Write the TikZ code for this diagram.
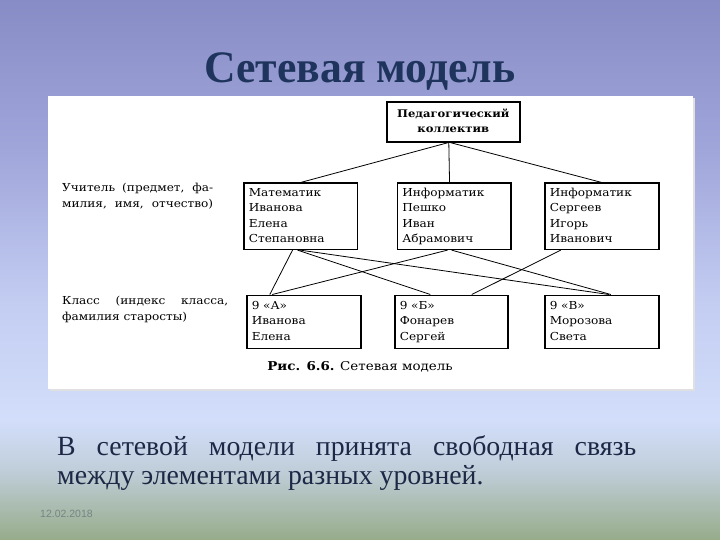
\documentclass[tikz,border=0pt]{standalone}
\usepackage{fontspec}
\setmainfont{Liberation Serif}
\newfontfamily\bookfont[FakeStretch=1.1]{DejaVu Serif}
\newfontfamily\datefont{Liberation Sans}
\newfontfamily\titlefont[FakeStretch=0.97]{Liberation Serif}
\definecolor{bgA}{RGB}{136,140,198}
\definecolor{bgC}{RGB}{160,166,218}
\definecolor{bgD}{RGB}{195,205,242}
\definecolor{bgE}{RGB}{210,222,250}
\definecolor{bgF}{RGB}{192,206,218}
\definecolor{bgG}{RGB}{150,172,138}
\definecolor{navy}{RGB}{31,52,92}
\definecolor{textnavy}{RGB}{30,40,70}
\definecolor{dategray}{RGB}{120,132,132}
\pgfdeclareverticalshading{slidebg}{100bp}{color(0bp)=(bgG); color(25bp)=(bgG); color(31.5bp)=(bgF); color(36bp)=(bgE); color(47bp)=(bgD); color(61bp)=(bgC); color(75bp)=(bgA); color(100bp)=(bgA)}
\newcommand{\strline}[1]{\strut#1}
\tikzset{
  bk/.style={font=\bookfont\fontsize{11}{15.4}\selectfont},
  tbox/.style={bk, draw=black, line width=1.6pt, anchor=north west, inner xsep=5pt, inner ysep=0pt, align=left},
  link/.style={draw=black, line width=0.8pt},
}
\begin{document}
\begin{tikzpicture}[x=1pt,y=-1pt]
\useasboundingbox (0,0) rectangle (720,540);
\shade[shading=slidebg] (0,0) rectangle (720,540);
% panel
\fill[black!12] (50,98) rectangle (695,391);
\fill[white] (48,96) rectangle (693,389);
% title
\node[font=\titlefont\bfseries\fontsize{45}{50}\selectfont, text=navy, anchor=base] (title) at (360,83) {Сетевая модель};
% top box
\node[tbox, font=\bookfont\bfseries\fontsize{10.5}{15}\selectfont, align=center, minimum width=133pt, minimum height=40pt] (top) at (386,101) {\strline{Педагогический}\\\strline{коллектив}};
% teachers
\node[tbox, text width=103.5pt, minimum height=66pt] (t1) at (243,182.5) {\strline{Математик}\\\strline{Иванова}\\\strline{Елена}\\\strline{Степановна}};
\node[tbox, text width=103.5pt, minimum height=66pt] (t2) at (396.5,182.5) {\strline{Информатик}\\\strline{Пешко}\\\strline{Иван}\\\strline{Абрамович}};
\node[tbox, text width=104pt, minimum height=66pt] (t3) at (544,182.5) {\strline{Информатик}\\\strline{Сергеев}\\\strline{Игорь}\\\strline{Иванович}};
% classes
\node[tbox, text width=104pt, minimum height=53pt] (c1) at (246,294.5) {\strline{9 «А»}\\\strline{Иванова}\\\strline{Елена}};
\node[tbox, text width=103pt, minimum height=53pt] (c2) at (394,294.5) {\strline{9 «Б»}\\\strline{Фонарев}\\\strline{Сергей}};
\node[tbox, text width=104pt, minimum height=53pt] (c3) at (544,294.5) {\strline{9 «В»}\\\strline{Морозова}\\\strline{Света}};
% left labels
\node[bk, anchor=north west, align=left, inner sep=0pt] (lab1) at (62,181) {\strline{\makebox[151pt][s]{Учитель (предмет, фа-}}\\\strline{\makebox[151pt][s]{милия, имя, отчество)}}};
\node[bk, anchor=north west, align=left, inner sep=0pt] (lab2) at (62,294) {\strline{\makebox[166pt][s]{Класс (индекс класса,}}\\\strline{фамилия старосты)}};
% caption
\node[font=\bookfont\fontsize{12.2}{14}\selectfont, anchor=center, inner sep=0pt] (cap) at (360,366.5) {\textbf{Рис. 6.6.} Сетевая модель};
% links
\draw[link] ([xshift=-5pt]top.south) -- (t1.north);
\draw[link] ([xshift=-4.5pt]top.south) -- ([xshift=-4.5pt]t2.north);
\draw[link] ([xshift=-3pt]top.south) -- (t3.north);
\draw[link] ([xshift=-8pt]t1.south) -- ([xshift=-34pt]c1.north);
\draw[link] ([xshift=-3pt]t1.south) -- ([xshift=-21pt]c2.north);
\draw[link] ([xshift=-0.5pt]t1.south) -- ([xshift=7pt]c3.north);
\draw[link] ([xshift=-6.5pt]t2.south) -- ([xshift=-31.5pt]c1.north);
\draw[link] ([xshift=-2.5pt]t2.south) -- ([xshift=9pt]c3.north);
\draw[link] ([xshift=-41pt]t3.south) -- ([xshift=20.5pt]c2.north);
% bottom text
\node[font=\fontsize{27.8}{29}\selectfont, text=textnavy, anchor=base west, align=left, inner sep=0pt] (body) at (57,484) {\makebox[579pt][s]{В сетевой модели принята свободная связь}\\между элементами разных уровней.};
\node[font=\datefont\fontsize{10.5}{12}\selectfont, text=dategray, anchor=west, inner sep=0pt] (date) at (40,514) {12.02.2018};
\end{tikzpicture}
\end{document}
